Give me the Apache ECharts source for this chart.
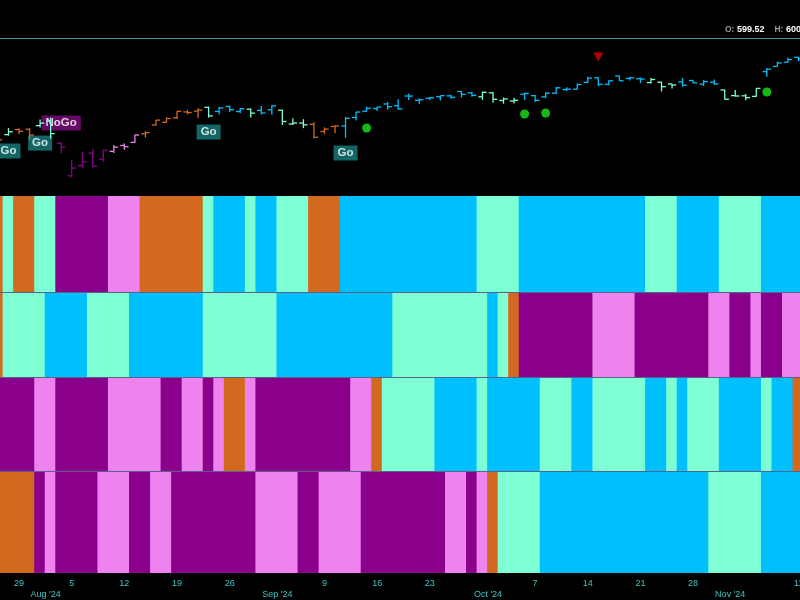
<!DOCTYPE html>
<html>
<head>
<meta charset="utf-8">
<script src="https://cdn.jsdelivr.net/npm/echarts@6/dist/echarts.min.js"></script>
<style>
html,body{margin:0;padding:0;background:#000;}
#chart{width:800px;height:600px;}
</style>
</head>
<body>
<div id="chart"></div>
<script>
// ---- data ----
var dates = ['2024-07-25','2024-07-26','2024-07-29','2024-07-30','2024-07-31','2024-08-01','2024-08-02','2024-08-05','2024-08-06','2024-08-07','2024-08-08','2024-08-09','2024-08-12','2024-08-13','2024-08-14','2024-08-15','2024-08-16','2024-08-19','2024-08-20','2024-08-21','2024-08-22','2024-08-23','2024-08-26','2024-08-27','2024-08-28','2024-08-29','2024-08-30','2024-09-03','2024-09-04','2024-09-05','2024-09-06','2024-09-09','2024-09-10','2024-09-11','2024-09-12','2024-09-13','2024-09-16','2024-09-17','2024-09-18','2024-09-19','2024-09-20','2024-09-23','2024-09-24','2024-09-25','2024-09-26','2024-09-27','2024-09-30','2024-10-01','2024-10-02','2024-10-03','2024-10-04','2024-10-07','2024-10-08','2024-10-09','2024-10-10','2024-10-11','2024-10-14','2024-10-15','2024-10-16','2024-10-17','2024-10-18','2024-10-21','2024-10-22','2024-10-23','2024-10-24','2024-10-25','2024-10-28','2024-10-29','2024-10-30','2024-10-31','2024-11-01','2024-11-04','2024-11-05','2024-11-06','2024-11-07','2024-11-08','2024-11-11'];

var opens  = [541.35,542.28,546.02,546.26,548.98,552.57,535.75,511.64,519.22,528.47,523.91,529.81,534.21,536.53,542.85,549.50,551.42,554.73,559.15,559.77,562.56,559.53,563.18,559.49,561.21,560.31,560.77,560.47,550.20,550.89,549.94,544.65,548.36,548.70,555.01,559.71,561.74,565.10,563.74,571.01,567.84,569.34,570.48,571.14,574.38,573.39,570.42,573.40,567.71,567.36,572.35,571.30,570.42,573.16,575.77,576.05,581.22,584.59,579.78,585.91,584.07,583.85,581.05,581.26,579.98,581.51,582.58,579.85,581.29,575.56,571.32,571.18,570.74,589.20,593.08,596.17,599.81];
var highs  = [547.46,547.19,547.05,547.34,553.50,554.87,536.99,523.58,529.75,531.59,531.29,534.51,535.73,542.28,544.96,553.36,555.02,559.61,560.84,562.11,563.18,563.09,563.91,562.06,561.65,563.68,564.20,560.81,554.43,553.80,551.60,547.71,549.15,555.36,559.40,563.03,563.11,566.58,568.69,572.88,569.31,570.33,571.36,571.89,574.71,574.22,574.38,574.06,569.90,569.80,573.36,571.96,573.78,577.71,577.58,580.33,585.27,584.90,582.83,586.12,585.39,584.85,584.50,581.71,580.06,584.46,582.71,582.91,583.32,575.63,575.55,572.50,576.74,591.93,596.65,599.64,600.17];
var lows   = [537.45,541.49,542.72,538.52,547.58,539.43,528.60,510.27,517.87,518.05,521.84,528.56,530.95,536.28,540.12,548.88,551.26,553.86,557.33,554.73,554.98,557.29,559.05,558.32,555.04,557.18,557.14,549.51,549.46,547.10,539.44,542.68,543.38,539.96,552.74,559.45,559.90,560.79,560.83,568.08,565.17,568.10,567.60,568.91,569.90,570.42,568.08,566.00,565.27,565.49,568.10,566.63,569.53,572.55,574.49,575.91,580.73,578.54,578.96,582.16,582.58,580.60,580.38,574.42,576.57,578.08,580.52,578.43,579.29,568.44,570.62,567.89,570.52,585.39,593.00,596.17,597.00];
var closes = [538.41,544.44,544.76,542.00,550.81,543.01,532.90,517.38,522.15,518.66,530.65,532.99,533.27,542.04,543.75,553.07,554.31,559.61,558.70,560.62,556.22,562.13,560.79,561.56,558.30,558.35,563.68,552.08,550.95,549.61,540.36,546.41,548.79,554.42,559.09,562.01,562.84,563.07,561.40,570.98,568.25,569.67,571.30,570.04,572.30,571.47,573.76,568.62,568.86,567.82,572.98,567.80,573.17,577.14,576.13,579.58,584.32,579.78,582.30,582.35,584.59,583.63,583.32,577.99,579.24,579.04,580.83,581.77,580.01,568.64,571.04,569.81,576.70,591.04,595.61,598.19,598.76];

// trend states per day (B strong go, A weak go, P nogo, V weak nogo, O amber)
var trend1 = 'OAOOAAPPPPPVVVOOOOOOABBBABBAAAOOOBBBBBBBBBBBBBAAAABBBBBBBBBBBBAAABBBBAAAABBBB'.split('');
var trend2 = 'OAAAABBBBAAAABBBBBBBAAAAAAABBBBBBBBBBBAAAAAAAAABAOPPPPPPPVVVVPPPPPPPVVPPVPPVV'.split('');
var trend3 = 'PPPPVVPPPPPVVVVVPPVVPVOOVPPPPPPPPPVVOAAAAABBBBABBBBBAAABBAAAAABBABAAABBBBABBO'.split('');
var trend4 = 'OOOOPVPPPPVVVPPVVPPPPPPPPVVVVPPVVVVPPPPPPPPVVPVOAAAABBBBBBBBBBBBBBBBAAAAABBBB'.split('');

var dayLabels = {2:'29',7:'5',12:'12',17:'19',22:'26',31:'9',36:'16',41:'23',51:'7',56:'14',61:'21',66:'28',76:'11'};
var monthLabels = {5:"Aug '24",27:"Sep '24",47:"Oct '24",70:"Nov '24"};

var goLabels = [[1,530.1,'Go'],[4,536.0,'Go'],[6,550.9,'NoGo'],[20,544.2,'Go'],[33,528.6,'Go']];
var greenDots = [[35,547.2],[50,557.6],[52,558.4],[73,574.0]];
var redTriangles = [[57,600.1]];

var headerOpen = '599.52', headerHigh = '600.84';

// ---- styles ----
var palette = {B:'#00bfff', A:'#7fffd4', P:'#8b008b', V:'#ee82ee', O:'#d2691e'};
var labelBg = {Go:'#17807f', NoGo:'#7d0f7d'};
var axisTxt = '#3ec6c6';
var sepColor = '#56648a';

var chart = echarts.init(document.getElementById('chart'));

var L = -7.3, R = -3.7;
function mkGrid(top, h){
  return {left:L, right:R, top:top, height:h, containLabel:false, outerBoundsMode:'none'};
}
var grids = [mkGrid(38,157), mkGrid(196,96), mkGrid(292,85), mkGrid(377,94), mkGrid(471,102)];

function stripAxis(g){
  return {type:'category', gridIndex:g, data:dates, boundaryGap:true, position:'bottom', z:10,
    axisLine:{show:true, lineStyle:{color:sepColor, width:1}}, axisTick:{show:false},
    axisLabel:{show:false}, splitLine:{show:false}};
}

var xAxes = [
  {type:'category', gridIndex:0, data:dates, boundaryGap:true, position:'top',
   axisLine:{show:true, lineStyle:{color:'#3d9e96', width:1}}, axisTick:{show:false}, axisLabel:{show:false}, splitLine:{show:false}},
  stripAxis(1), stripAxis(2), stripAxis(3),
  {type:'category', gridIndex:4, data:dates, boundaryGap:true, position:'bottom',
   axisLine:{show:false}, axisTick:{show:false}, splitLine:{show:false},
   axisLabel:{show:true, interval:0, color:axisTxt, fontSize:9, margin:6, fontFamily:'Liberation Sans, Arial, sans-serif',
     formatter:function(v, i){ return dayLabels[i] || ''; }}},
  {type:'category', gridIndex:4, data:dates, boundaryGap:true, position:'bottom', offset:11,
   axisLine:{show:false}, axisTick:{show:false}, splitLine:{show:false},
   axisLabel:{show:true, interval:0, color:axisTxt, fontSize:9, margin:6, padding:[0,10,0,0], fontFamily:'Liberation Sans, Arial, sans-serif',
     formatter:function(v, i){ return monthLabels[i] || ''; }}}
];

var yAxes = [
  {type:'value', gridIndex:0, min:497.35, max:614.2, show:false, splitLine:{show:false}},
  {type:'value', gridIndex:1, min:0, max:1, show:false},
  {type:'value', gridIndex:2, min:0, max:1, show:false},
  {type:'value', gridIndex:3, min:0, max:1, show:false},
  {type:'value', gridIndex:4, min:0, max:1, show:false}
];

function stripSeries(arr, g){
  return {type:'custom', xAxisIndex:g, yAxisIndex:g, silent:true, z:2,
    data: arr.map(function(s, i){ return [i, 1, 0]; }),
    encode:{x:0, y:[1,2]},
    renderItem:function(params, api){
      var i = api.value(0);
      var p = api.coord([i, 1]);
      var q = api.coord([i, 0]);
      var w = api.size([1, 0])[0];
      return {type:'rect',
        shape:{x:p[0] - w/2 - 0.6, y:p[1], width:w + 1.2, height:q[1] - p[1]},
        style:{fill:palette[arr[i]]}};
    }};
}

var ohlc = dates.map(function(d, i){ return [i, opens[i], highs[i], lows[i], closes[i]]; });

var series = [
  stripSeries(trend1, 1), stripSeries(trend2, 2), stripSeries(trend3, 3), stripSeries(trend4, 4),
  {type:'scatter', xAxisIndex:0, yAxisIndex:0, z:3, symbolSize:1, itemStyle:{color:'rgba(0,0,0,0)'}, silent:true,
   data: goLabels.map(function(g){ return {value:[g[0], g[1]], name:g[2],
     label:{show:true, position:'inside', formatter:'{b}', color:'#ffffff', fontWeight:'bold', fontSize:11.5,
       fontFamily:'Liberation Sans, Arial, sans-serif', backgroundColor:labelBg[g[2]], padding:[2,4,1,4]}}; })},
  {type:'custom', xAxisIndex:0, yAxisIndex:0, z:5, silent:true,
   data: ohlc, encode:{x:0, y:[1,2,3,4]},
   renderItem:function(params, api){
     var i = api.value(0);
     var o = api.coord([i, api.value(1)]), h = api.coord([i, api.value(2)]);
     var l = api.coord([i, api.value(3)]), c = api.coord([i, api.value(4)]);
     var w = api.size([1,0])[0]*0.4;
     var col = palette[trend1[i]];
     var st = {stroke:col, lineWidth:1.3};
     return {type:'group', children:[
       {type:'line', shape:{x1:h[0], y1:h[1], x2:l[0], y2:l[1]}, style:st},
       {type:'line', shape:{x1:o[0]-w, y1:o[1], x2:o[0], y2:o[1]}, style:st},
       {type:'line', shape:{x1:c[0], y1:c[1], x2:c[0]+w, y2:c[1]}, style:st}
     ]};
   }},
  {type:'scatter', xAxisIndex:0, yAxisIndex:0, z:6, symbol:'circle', symbolSize:9, silent:true,
   itemStyle:{color:'#19e619'}, data: greenDots},
  {type:'scatter', xAxisIndex:0, yAxisIndex:0, z:6, symbol:'triangle', symbolRotate:180, symbolSize:[10,9], silent:true,
   itemStyle:{color:'#e00000'}, data: redTriangles}
];

chart.setOption({
  backgroundColor:'#000000',
  animation:false,
  title:{
    text:'{l|O:} {v|' + headerOpen + '}    {l|H:} {v|' + headerHigh + '}',
    left:725, top:25, padding:0,
    textStyle:{fontSize:9, fontFamily:'Liberation Sans, Arial, sans-serif',
      rich:{l:{color:'#9a9a9a', fontSize:8.5}, v:{color:'#ffffff', fontSize:9, fontWeight:'bold'}}}
  },
  grid: grids,
  xAxis: xAxes,
  yAxis: yAxes,
  series: series
});
</script>
</body>
</html>
